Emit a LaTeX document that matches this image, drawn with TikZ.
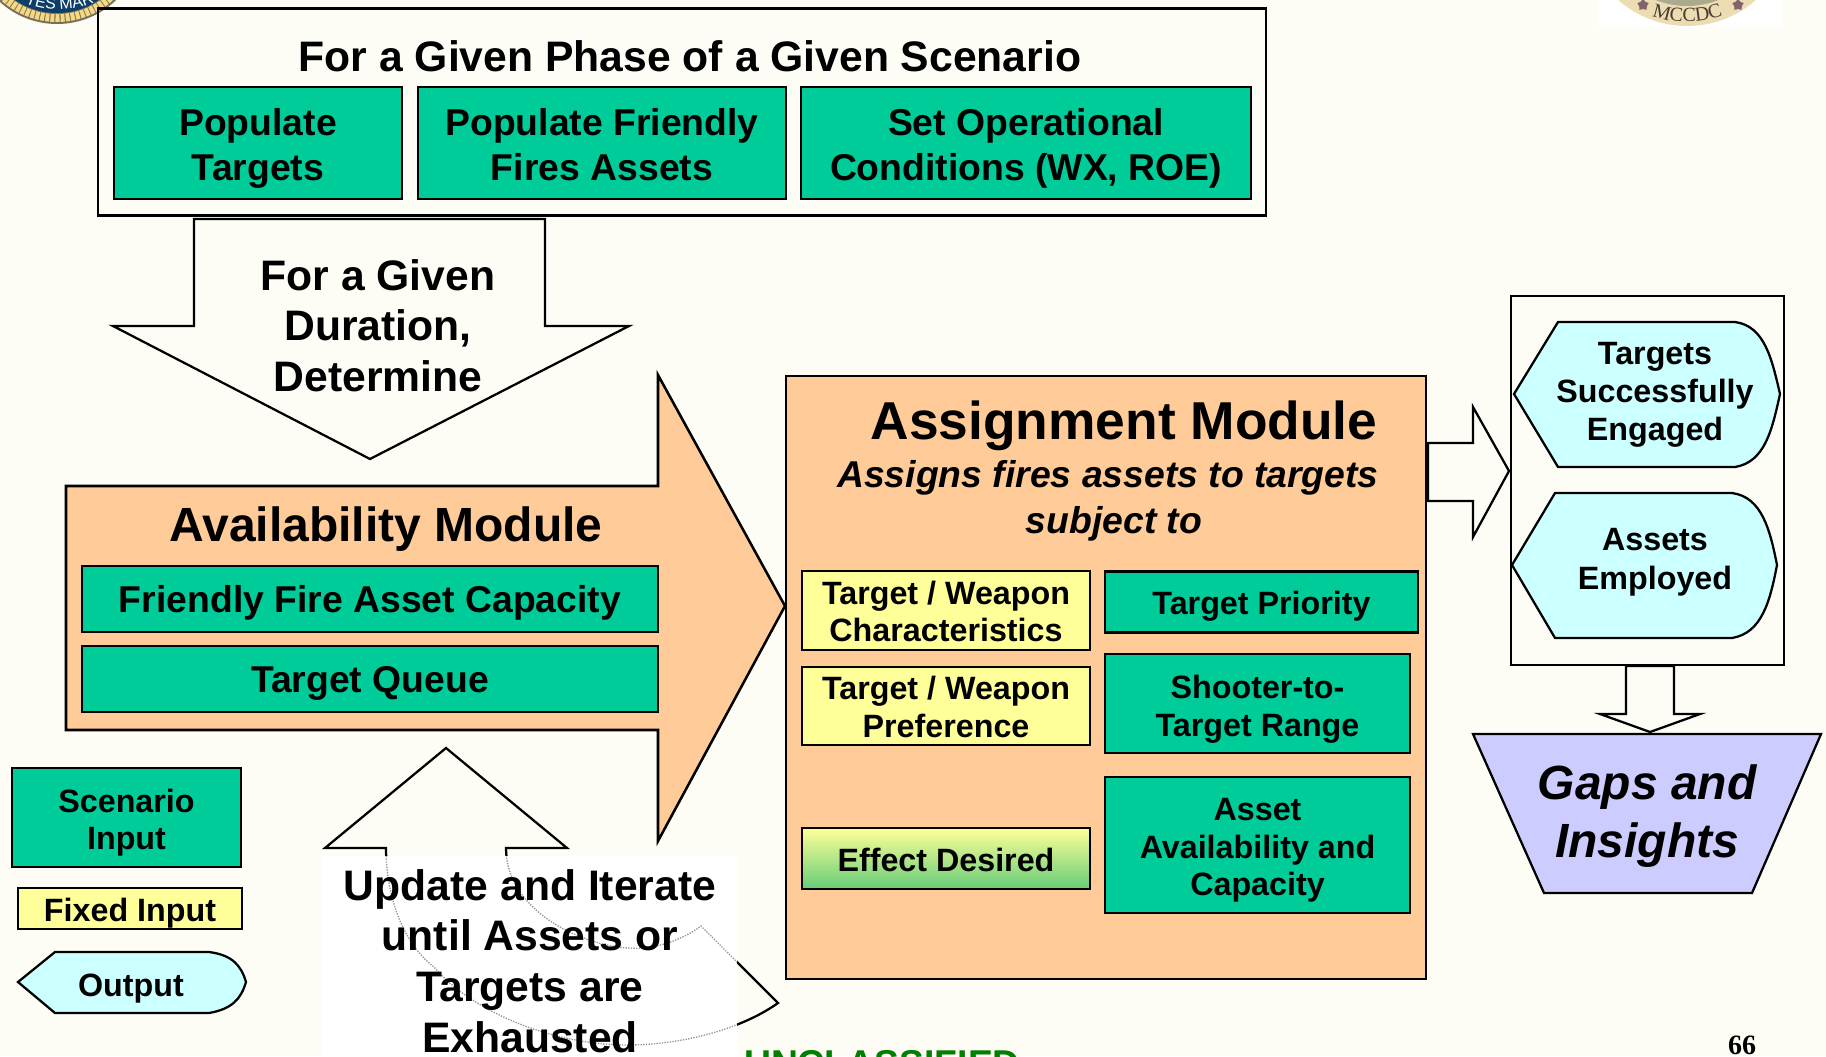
\documentclass[tikz,border=0pt]{standalone}
\usepackage{fontspec}
\setmainfont{Liberation Sans}
\newfontfamily\seriffont{Liberation Serif}
\usetikzlibrary{arrows,shapes,positioning}
\usetikzlibrary{shapes.geometric}
\usetikzlibrary{decorations.text}
\newcommand{\loopoutline}{(386,848) .. controls (386,900) and (405,945) .. (434,967) .. controls (470,1010) and (550,1045) .. (628,1045) .. controls (680,1045) and (740,1030) .. (778,1003) -- (701,926) .. controls (680,942) and (650,950) .. (628,948) .. controls (580,945) and (506,910) .. (506,848)}
\tikzset{
  boxsize/.style 2 args={minimum width=#1*0.75pt, minimum height=#2*0.75pt},
  plainbox/.style={draw, line width=1.9pt, inner sep=0pt},
  greenbox/.style={plainbox, fill={rgb, 255:red, 0; green, 204; blue, 153 }},
  yellowbox/.style={plainbox, fill={rgb, 255:red, 255; green, 255; blue, 153 }},
  blockarrow/.style={draw, line width=1.7pt, line join=miter, fill={rgb, 255:red, 253; green, 253; blue, 246 }},
  orangefill/.style={draw, line width=1.9pt, fill={rgb, 255:red, 255; green, 204; blue, 153 }},
  outputshape/.style={draw, line width=1.7pt, fill={rgb, 255:red, 204; green, 255; blue, 255 }},
  textlabel/.style={inner sep=0pt, align=center, execute at begin node=\strut, execute at end node=\strut, font=\bfseries\fontsize{24.2}{28}\selectfont},
  largelabel/.style={textlabel, font=\bfseries\fontsize{28}{34}\selectfont},
}
\begin{document}
\begin{tikzpicture}[x=0.75pt,y=0.75pt,yscale=-1,xscale=1]
\useasboundingbox (0,0) rectangle (1826,1056);
\clip (0,0) rectangle (1826,1056);
%Background
\fill [color={rgb, 255:red, 253; green, 253; blue, 246 }] (0,0) rectangle (1826,1056);

%Left seal
\fill [color={rgb, 255:red, 120; green, 110; blue, 90 }] (57,-61) circle [radius=85];
\draw [color={rgb, 255:red, 244; green, 216; blue, 130 }, line width=6pt, dash pattern=on 3pt off 0.8pt] (57,-61) circle [radius=79];
\fill [color={rgb, 255:red, 12; green, 62; blue, 104 }] (57,-61) circle [radius=74];
\path [decorate, decoration={text along path, text align=center, text={|\fontsize{12}{12}\selectfont\color{white}|TES MAR}}] (20,0) .. controls (40,13) and (75,13) .. (100,0);
%Right seal
\fill [color=white] (1598,0) rectangle (1782,27);
\fill [color={rgb, 255:red, 236; green, 220; blue, 178 }] (1687,-78) circle [radius=104];
\fill [color={rgb, 255:red, 170; green, 170; blue, 140 }] (1687,-78) circle [radius=84];
\node (sealstarl) [star, star points=5, fill={rgb, 255:red, 130; green, 100; blue, 110 }, inner sep=0pt, minimum size=9pt] at (1643,5) {};
\node (sealstarr) [star, star points=5, fill={rgb, 255:red, 130; green, 100; blue, 110 }, inner sep=0pt, minimum size=9pt] at (1738,5) {};
\path [decorate, decoration={text along path, text align=center, text={|\seriffont\fontsize{15}{15}\selectfont\color[rgb]{0.3,0.23,0.2}|MCCDC}}] (1645,12) .. controls (1665,25) and (1710,25) .. (1730,12);

%Shape: Rectangle
\node (scenariobox) [plainbox, boxsize={1168}{207}] at (682,112) {};
\node (poptargets) [greenbox, boxsize={288}{112}] at (258,143) {};
\node (popassets) [greenbox, boxsize={368}{112}] at (602,143) {};
\node (setconditions) [greenbox, boxsize={450}{112}] at (1026,143) {};
% Text Node
\node (scenariotitle) [textlabel, font=\bfseries\fontsize{32}{34}\selectfont] at (690,62) {For a Given Phase of a Given Scenario};
\node (poptargetstext) [largelabel] at (258,151) {Populate\\Targets};
\node (popassetstext) [largelabel] at (602,151) {Populate Friendly\\Fires Assets};
\node (setconditionstext) [largelabel] at (1026,151) {Set Operational\\Conditions (WX, ROE)};

%Block arrow down
\draw [blockarrow] (194,219) -- (545,219) -- (545,326) -- (629,326) -- (370,459) -- (113,326) -- (194,326) -- cycle ;
% Text Node
\node (durationtext) [textlabel, font=\bfseries\fontsize{32}{38}\selectfont] at (378,333) {For a Given\\Duration,\\Determine};

%Availability arrow
\draw [orangefill] (66,486) -- (658,486) -- (658,375) -- (785,606) -- (658,841) -- (658,730) -- (66,730) -- cycle ;
\node (capacity) [greenbox, boxsize={576}{66}] at (370,599) {};
\node (queue) [greenbox, boxsize={576}{66}] at (370,679) {};
% Text Node
\node (availtitle) [textlabel, font=\bfseries\fontsize{36}{38}\selectfont] at (386,531) {Availability Module};
\node (capacitytext) [largelabel] at (370,603) {Friendly Fire Asset Capacity};
\node (queuetext) [largelabel] at (370,683) {Target Queue};

%Assignment module
\node (assignbox) [orangefill, boxsize={640}{603}] at (1106,677.5) {};
\node (characteristics) [yellowbox, boxsize={288}{79}] at (946,610.5) {};
\node (preference) [yellowbox, boxsize={288}{78}] at (946,706) {};
\node (effect) [yellowbox, boxsize={288}{61}, top color={rgb, 255:red, 255; green, 255; blue, 153 }, bottom color={rgb, 255:red, 102; green, 204; blue, 120 }, shading angle=0] at (946,858.5) {};
\node (priority) [greenbox, boxsize={313}{61}] at (1261.5,602) {};
\node (shooter) [greenbox, boxsize={305}{99}] at (1257.5,703.5) {};
\node (availability) [greenbox, boxsize={305}{136}] at (1257.5,845) {};
% Text Node
\node (assigntitle) [textlabel, font=\bfseries\fontsize{40}{44}\selectfont] at (1124,428) {Assignment Module};
\node (assignnote) [textlabel, font=\bfseries\itshape\fontsize{28}{34}\selectfont] at (1108,478) {Assigns fires assets to targets};
\node (assignsubject) [textlabel, font=\bfseries\itshape\fontsize{28}{34}\selectfont] at (1114,524) {subject to};
\node (characteristicstext) [textlabel] at (946,617) {Target / Weapon\\Characteristics};
\node (preferencetext) [textlabel] at (946,712.5) {Target / Weapon\\Preference};
\node (effecttext) [textlabel] at (946,864.5) {Effect Desired};
\node (prioritytext) [textlabel] at (1261.5,607) {Target Priority};
\node (shootertext) [textlabel] at (1257.5,711.5) {Shooter-to-\\Target Range};
\node (availabilitytext) [textlabel] at (1257.5,852.6) {Asset\\Availability and\\Capacity};

%Block arrow to outputs
\draw [blockarrow] (1428,443) -- (1473,443) -- (1473,407) -- (1509,471) -- (1473,537) -- (1473,501) -- (1428,501) -- cycle ;

%Output frame
\node (outputframe) [plainbox, boxsize={273}{369}] at (1647.5,480.5) {};
\draw [outputshape] (1514,394) -- (1558,322) -- (1735,322) .. controls (1765,326) and (1772,360) .. (1780,394) .. controls (1772,430) and (1765,462) .. (1735,467) -- (1558,467) -- cycle ;
\node (engagedtext) [textlabel, font=\bfseries\fontsize{24.2}{28.5}\selectfont] at (1655,397) {Targets\\Successfully\\Engaged};
\draw [outputshape] (1512,565) -- (1555,493) -- (1732,493) .. controls (1762,497) and (1770,530) .. (1777,565) .. controls (1770,601) and (1762,633) .. (1732,638) -- (1555,638) -- cycle ;
\node (employedtext) [textlabel, font=\bfseries\fontsize{24.2}{29.5}\selectfont] at (1655,565) {Assets\\Employed};

%Block arrow to gaps
\draw [blockarrow] (1626,666) -- (1674,666) -- (1674,714) -- (1700,714) -- (1650,732) -- (1600,714) -- (1626,714) -- cycle ;

%Gaps trapezoid
\draw [line width=1.7pt, fill={rgb, 255:red, 204; green, 204; blue, 255 }] (1473,734) -- (1821,734) -- (1752,893) -- (1544,893) -- cycle ;
\node (gapstext) [textlabel, font=\bfseries\itshape\fontsize{36}{44}\selectfont] at (1647,820) {Gaps and\\Insights};

%Legend
\node (legendscenario) [greenbox, boxsize={229}{99}] at (126.5,817.5) {};
\node (legendfixed) [yellowbox, boxsize={224}{41}] at (130,908.5) {};
\draw [outputshape] (18,982) -- (55,952) -- (209,952) .. controls (232,955) and (241,965) .. (246,982) .. controls (241,999) and (232,1009) .. (209,1013) -- (55,1013) -- cycle ;
% Text Node
\node (legendscenariotext) [textlabel] at (126.5,825) {Scenario\\Input};
\node (legendfixedtext) [textlabel] at (130,914.5) {Fixed Input};
\node (legendoutput) [textlabel] at (131,989) {Output};

%Update arrow
\draw [blockarrow] \loopoutline -- (567,848) -- (446,748) -- (325,848) -- cycle ;
\fill [color=white] (322,856) rectangle (737,1056);
\begin{scope}
\clip (322,856) rectangle (737,1056);
\draw [color={rgb, 255:red, 150; green, 150; blue, 150 }, line width=1pt, densely dotted] \loopoutline ;
\end{scope}
\node (updatetext) [textlabel, font=\bfseries\fontsize{32}{38}\selectfont, anchor=north] at (530,869) {Update and Iterate\\until Assets or\\Targets are\\Exhausted};

%Footer
\node (classification) [textlabel, text={rgb, 255:red, 0; green, 128; blue, 0 }, font=\bfseries\fontsize{28}{30}\selectfont, anchor=north] at (882,1048) {UNCLASSIFIED};
\node (pagenumber) [textlabel, font=\seriffont\bfseries\fontsize{21}{24}\selectfont] at (1742,1048) {66};

\end{tikzpicture}
\end{document}
